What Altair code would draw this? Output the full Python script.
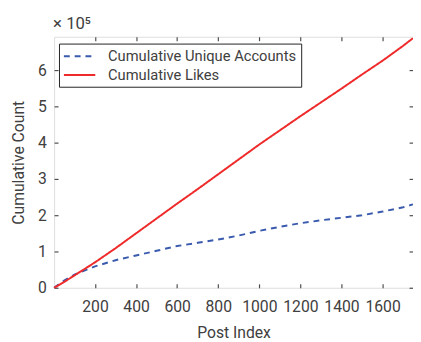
import altair as alt
import pandas as pd

# ---- data ----
post_index = [1, 50, 100, 200, 300, 400, 500, 600, 700, 800, 900, 1000,
              1100, 1200, 1300, 1400, 1500, 1600, 1700, 1748]
cum_likes = [0, 16000, 34000, 70000, 109000, 150000, 191000, 232000, 272000,
             313000, 354000, 395000, 434000, 473000, 511000, 549000, 588000,
             626000, 667000, 688000]
cum_unique = [0, 20000, 36000, 59000, 76000, 89000, 102000, 115000, 124000,
              133000, 144000, 157000, 168000, 178000, 186000, 193000, 200000,
              210000, 222000, 230000]
series_names = ["Cumulative Unique Accounts", "Cumulative Likes"]
x_ticks = [200, 400, 600, 800, 1000, 1200, 1400, 1600]
y_ticks = [0, 100000, 200000, 300000, 400000, 500000, 600000]
exponent_label = "\u00d7 10\u2075"

rows = []
for i, x in enumerate(post_index):
    rows.append({"idx": x, "count": cum_unique[i], "series": series_names[0]})
    rows.append({"idx": x, "count": cum_likes[i], "series": series_names[1]})
df = pd.DataFrame(rows)

FONT = "Roboto"
TXT = "#404040"
FRAME = "#4d4d4d"

xscale = alt.Scale(domain=[1, 1748], nice=False, zero=False)
yscale = alt.Scale(domain=[0, 692000], nice=False)

color = alt.Color("series:N", sort=series_names,
                  scale=alt.Scale(domain=series_names, range=["#3a5aad", "#ee2a2a"]),
                  legend=alt.Legend(
                      title=None, orient="none", legendX=5, legendY=7,
                      symbolType="M-2,0L2,0", symbolSize=256, symbolStrokeWidth=2,
                      labelFont=FONT, labelFontSize=15, labelColor=TXT,
                      labelLimit=0,
                      fillColor="white", strokeColor="#222222",
                      padding=4, rowPadding=2, labelOffset=20, symbolOffset=8))
dash = alt.StrokeDash("series:N", sort=series_names,
                      scale=alt.Scale(domain=series_names, range=[[6, 5], [1, 0]]),
                      legend=None)

base = alt.Chart(df)

lines = base.mark_line(strokeWidth=2).encode(
    x=alt.X("idx:Q", scale=xscale, title="Post Index",
            axis=alt.Axis(orient="bottom", values=x_ticks, format="d",
                          domain=False, offset=-4,
                          tickSize=4, tickColor=FRAME, tickWidth=1.2,
                          labelPadding=11, labelFont=FONT, labelFontSize=16,
                          labelColor=TXT, labelFontWeight="normal",
                          titleFont=FONT, titleFontSize=16, titleColor=TXT,
                          titleFontWeight="normal", titlePadding=11, grid=False)),
    y=alt.Y("count:Q", scale=yscale, title="Cumulative Count",
            axis=alt.Axis(orient="left", values=y_ticks, domain=False, offset=-4,
                          tickSize=4, tickColor=FRAME, tickWidth=1.2,
                          labelExpr="datum.value / 100000",
                          labelPadding=8, labelFont=FONT, labelFontSize=16,
                          labelColor=TXT, titleFont=FONT, titleFontSize=16,
                          titleColor=TXT, titleFontWeight="normal",
                          titlePadding=11, grid=False)),
    color=color,
    strokeDash=dash,
)

ghost = base.mark_line(opacity=0).encode(
    x=alt.X("idx:Q", scale=xscale, title=None,
            axis=alt.Axis(orient="top", values=x_ticks, domain=False, offset=-4,
                          tickSize=4, tickColor=FRAME, tickWidth=1.2,
                          labels=False, grid=False)),
    y=alt.Y("count:Q", scale=yscale, title=None,
            axis=alt.Axis(orient="right", values=y_ticks, domain=False, offset=-4,
                          tickSize=4, tickColor=FRAME, tickWidth=1.2,
                          labels=False, grid=False)),
    detail="series:N",
)

times = alt.Chart(pd.DataFrame({"t": [exponent_label]})).mark_text(
    font=FONT, fontSize=17, color=TXT, align="left", baseline="alphabetic"
).encode(x=alt.value(-1), y=alt.value(-8), text="t:N")

chart = alt.layer(lines, ghost, times).resolve_axis(
    x="independent", y="independent"
).properties(
    width=366, height=256,
    autosize=alt.AutoSizeParams(type="none"),
    padding={"left": 47, "top": 26, "right": 0, "bottom": 52},
).configure_view(
    stroke=FRAME, strokeWidth=1.6
).configure(background="white")

chart.save("out.html", embed_options={"renderer": "svg", "actions": False})
